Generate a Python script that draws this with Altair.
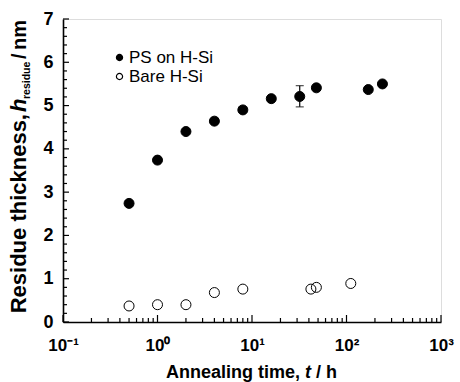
import altair as alt
import pandas as pd

# ---- data ----
ps_time = [0.5, 1, 2, 4, 8, 16, 32, 48, 170, 240]
ps_h = [2.74, 3.74, 4.40, 4.64, 4.90, 5.16, 5.21, 5.41, 5.37, 5.50]
bare_time = [0.5, 1, 2, 4, 8, 42, 48, 111]
bare_h = [0.37, 0.40, 0.40, 0.68, 0.76, 0.76, 0.80, 0.89]
err_time = [32]
err_low = [4.97]
err_high = [5.46]
series_names = ["PS on H-Si", "Bare H-Si"]
x_major = [0.1, 1, 10, 100, 1000]
x_minor = [m * d for d in [0.1, 1, 10, 100] for m in range(2, 10)]
y_major = [0, 1, 2, 3, 4, 5, 6, 7]
y_minor = [round(i * 0.2, 1) for i in range(36) if (i % 5) != 0]

FONT = "Liberation Sans"

pts = pd.DataFrame({
    "t": ps_time + bare_time,
    "h": ps_h + bare_h,
    "series": [series_names[0]] * len(ps_time) + [series_names[1]] * len(bare_time),
})
err = pd.DataFrame({"t": err_time, "lo": err_low, "hi": err_high})
caps = pd.DataFrame({"t": err_time * 2, "h": err_low + err_high})

xscale = alt.Scale(type="log", domain=[0.1, 1000], nice=False)
yscale = alt.Scale(domain=[0, 7], nice=False, zero=False)

label_expr = ("datum.value < 0.5 ? '10⁻¹' : datum.value < 5 ? '10⁰' : "
              "datum.value < 50 ? '10¹' : datum.value < 500 ? '10²' : '10³'")

xaxis = alt.Axis(values=x_major, labelExpr=label_expr, ticks=False, grid=False,
                 domain=True, domainColor="black", domainWidth=1.6, title=None,
                 labelFont=FONT, labelFontSize=17, labelFontWeight="bold",
                 labelColor="black", labelPadding=15, labelFlush=False, tickSize=0)
yaxis = alt.Axis(values=y_major, ticks=False, grid=False, domain=True, domainColor="black",
                 domainWidth=1.6, title=None, labelFont=FONT, labelFontSize=18,
                 labelFontWeight="bold", labelColor="black", labelPadding=10, tickSize=0)

points = alt.Chart(pts).mark_point(
    filled=True, size=100, stroke="black", strokeWidth=1, opacity=1
).encode(
    x=alt.X("t:Q", scale=xscale, axis=xaxis),
    y=alt.Y("h:Q", scale=yscale, axis=yaxis),
    fill=alt.Fill("series:N",
                  scale=alt.Scale(domain=series_names, range=["black", "transparent"]),
                  legend=alt.Legend(title=None, orient="none", legendX=48, legendY=30,
                                    labelFont=FONT, labelFontSize=17, labelColor="black",
                                    symbolType="circle", symbolSize=38,
                                    symbolStrokeColor="black", symbolStrokeWidth=1.2,
                                    labelOffset=1, rowPadding=1, padding=0)),
)

ebar = alt.Chart(err).mark_rule(color="black", strokeWidth=1.2).encode(
    x=alt.X("t:Q", scale=xscale, axis=xaxis),
    y=alt.Y("lo:Q", scale=yscale, axis=yaxis),
    y2="hi:Q",
)
ecaps = alt.Chart(caps).mark_tick(color="black", orient="horizontal", size=8, thickness=1.2).encode(
    x=alt.X("t:Q", scale=xscale, axis=xaxis),
    y=alt.Y("h:Q", scale=yscale, axis=yaxis),
)

yt_major = alt.Chart(pd.DataFrame({"v": y_major})).mark_rule(color="black", strokeWidth=1.2).encode(
    y=alt.Y("v:Q", scale=yscale, axis=yaxis), x=alt.value(0), x2=alt.value(6))
yt_minor = alt.Chart(pd.DataFrame({"v": y_minor})).mark_rule(color="black", strokeWidth=1.2).encode(
    y=alt.Y("v:Q", scale=yscale, axis=yaxis), x=alt.value(0), x2=alt.value(4))
xt_major = alt.Chart(pd.DataFrame({"v": x_major})).mark_rule(color="black", strokeWidth=1.2).encode(
    x=alt.X("v:Q", scale=xscale, axis=xaxis), y=alt.value(303), y2=alt.value(296))
xt_minor = alt.Chart(pd.DataFrame({"v": x_minor})).mark_rule(color="black", strokeWidth=1.2).encode(
    x=alt.X("v:Q", scale=xscale, axis=xaxis), y=alt.value(303), y2=alt.value(299))

one = pd.DataFrame({"a": [0]})


def txt(text, x, y, align, size=18, style="normal", angle=0, weight="bold"):
    kw = dict(align=align, baseline="alphabetic", font=FONT, fontSize=size,
              fontWeight=weight, fontStyle=style, color="black")
    if angle:
        kw["angle"] = angle
    return alt.Chart(one).mark_text(**kw).encode(
        x=alt.value(x), y=alt.value(y), text=alt.value(text))


titles = [
    txt("Annealing time,", 237, 359, "right"),
    txt("t", 242, 359, "left", style="italic"),
    txt("/ h", 253, 359, "left"),
    txt("Residue thickness,", -37, 95, "right", size=22, angle=270),
    txt("h", -37, 93, "left", size=22, style="italic", angle=270),
    txt("residue", -33, 80, "left", size=10.5, angle=270),
    txt("/", -37, 40, "left", size=20, angle=270),
    txt("nm", -37, 31, "left", size=20, angle=270),
]

chart = alt.layer(
    points, yt_minor, yt_major, xt_minor, xt_major, ebar, ecaps, *titles
).properties(
    width=378, height=303,
    autosize=alt.AutoSizeParams(type="none"),
    padding={"left": 63, "top": 19, "right": 19, "bottom": 60},
).configure_view(
    stroke="black", strokeWidth=1.6
).configure(background="white")

chart.save("out.html", embed_options={"renderer": "svg", "actions": False})
